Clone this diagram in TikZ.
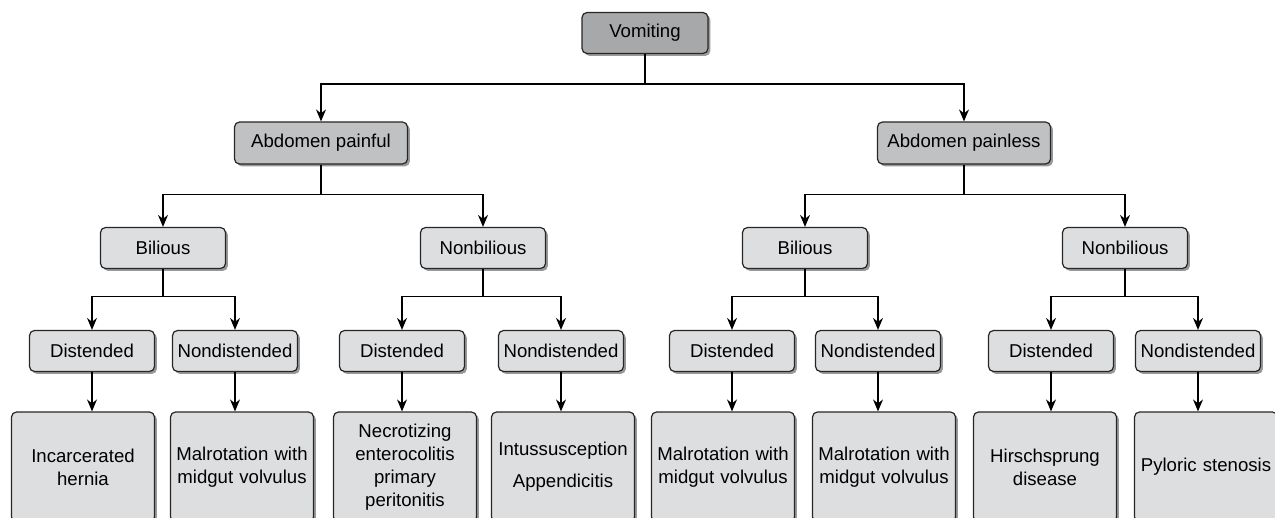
\documentclass[tikz,border=0pt]{standalone}
\usepackage{fontspec}
\setmainfont{Liberation Sans}
\usetikzlibrary{arrows.meta,shadows,calc}
\definecolor{topgray}{RGB}{167,168,170}
\definecolor{abdgray}{RGB}{192,193,195}
\definecolor{boxgray}{RGB}{221,222,224}

\begin{document}
\begin{tikzpicture}[x=0.5pt,y=-0.5pt,
	box/.style={draw=black!85,line width=0.6pt,rounded corners=2.5pt,fill=boxgray,
		drop shadow={shadow xshift=1.2pt,shadow yshift=-1.2pt,fill=black,opacity=0.4},
		inner sep=0pt,align=center,font=\fontsize{9.3}{11.5}\selectfont},
	rootbox/.style={box,fill=topgray,minimum width=63pt,minimum height=20.5pt},
	abdbox/.style={box,fill=abdgray,minimum width=86.5pt,minimum height=21pt},
	choicebox/.style={box,minimum width=62.5pt,minimum height=20.5pt},
	findbox/.style={box,minimum width=71.5pt,minimum height=55pt,text width=70pt},
	arr/.style={-{Stealth[length=6pt,width=5pt,inset=2pt]},line width=0.55pt}]
		\useasboundingbox (0,0) rectangle (1275,518);
		\clip (0,0) rectangle (1275,518);
		% top levels
		\node[rootbox] (vom) at (645,33) {Vomiting};
		\node[abdbox] (painful) at (321,143) {Abdomen painful};
		\node[abdbox] (painless) at (964,143) {Abdomen painless};
		\node[choicebox] (bil1) at (163,248) {Bilious};
		\node[choicebox] (nbil1) at (483,248) {Nonbilious};
		\node[choicebox] (bil2) at (805,248) {Bilious};
		\node[choicebox] (nbil2) at (1125,248) {Nonbilious};
		% distended / nondistended
		\node[choicebox] (dis1) at (92,351) {Distended};
		\node[choicebox] (ndis1) at (235,351) {Nondistended};
		\node[choicebox] (dis2) at (402,351) {Distended};
		\node[choicebox] (ndis2) at (561,351) {Nondistended};
		\node[choicebox] (dis3) at (732,351) {Distended};
		\node[choicebox] (ndis3) at (878,351) {Nondistended};
		\node[choicebox] (dis4) at (1051,351) {Distended};
		\node[choicebox] (ndis4) at (1198,351) {Nondistended};
		% findings
		\node[findbox] (f1) at (83,467) {Incarcerated\\hernia};
		\node[findbox] (f2) at (242,467) {Malrotation with\\midgut volvulus};
		\node[findbox] (f3) at (405,467) {Necrotizing\\enterocolitis\\primary\\peritonitis};
		\node[findbox] (f4) at (563,467) {Intussusception\\[4.5pt]Appendicitis};
		\node[findbox] (f5) at (723,467) {Malrotation with\\midgut volvulus};
		\node[findbox] (f6) at (884,467) {Malrotation with\\midgut volvulus};
		\node[findbox] (f7) at (1045,467) {Hirschsprung\\disease};
		\node[findbox] (f8) at (1206,467) {Pyloric stenosis};
		% forks
		\coordinate (k0) at (645,84);
		\draw[line width=0.55pt] (vom) -- (k0);
		\draw[arr] (k0) -| (painful);
		\draw[arr] (k0) -| (painless);
		\foreach \p/\a/\b in {painful/bil1/nbil1,painless/bil2/nbil2}{
			\coordinate (k\p) at ($(\p.south)+(0,30)$);
			\draw[line width=0.55pt] (\p) -- (k\p);
			\draw[arr] (k\p) -| (\a);
			\draw[arr] (k\p) -| (\b);
		}
		\foreach \p/\a/\b in {bil1/dis1/ndis1,nbil1/dis2/ndis2,bil2/dis3/ndis3,nbil2/dis4/ndis4}{
			\coordinate (k\p) at ($(\p.south)+(0,27)$);
			\draw[line width=0.55pt] (\p) -- (k\p);
			\draw[arr] (k\p) -| (\a);
			\draw[arr] (k\p) -| (\b);
		}
		\foreach \m/\f in {dis1/f1,ndis1/f2,dis2/f3,ndis2/f4,dis3/f5,ndis3/f6,dis4/f7,ndis4/f8}
			\draw[arr] (\m) -- (\m |- \f.north);
	\end{tikzpicture}
\end{document}
